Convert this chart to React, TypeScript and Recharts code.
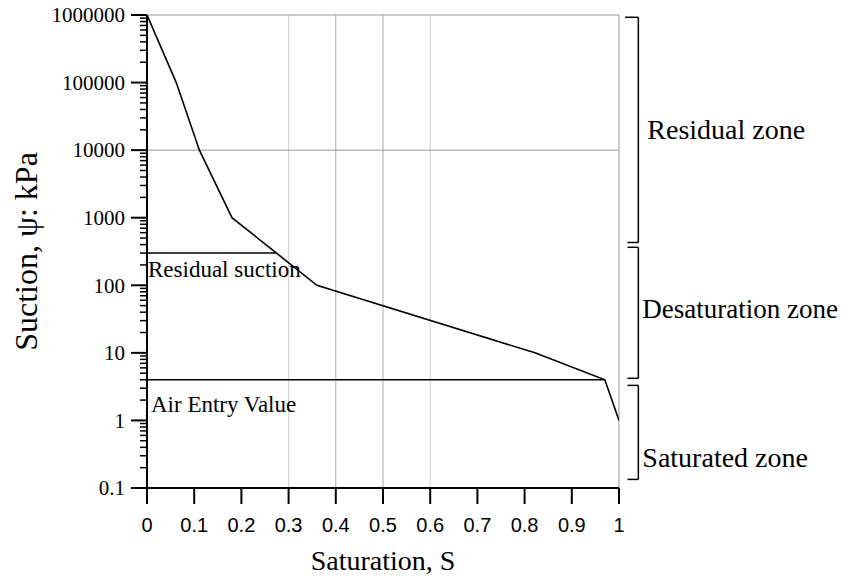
import React from 'react';
import { LineChart, Line, XAxis, YAxis, ReferenceLine, ReferenceDot, Label } from 'recharts';

// ---- data ----
const curveS = [0, 0.062, 0.111, 0.18, 0.36, 0.822, 0.97, 1];
const curvePsi = [1000000, 100000, 10000, 1000, 100, 10, 4, 1];

const residualSuctionPsi = 300;
const residualLineS = [0, 0.274];
const airEntryPsi = 4;
const airEntryLineS = [0, 0.97];

const xTicks = [0, 0.1, 0.2, 0.3, 0.4, 0.5, 0.6, 0.7, 0.8, 0.9, 1];
const yMajorTicks = [0.1, 1, 10, 100, 1000, 10000, 100000, 1000000];
const yMinorMultipliers = [2, 3, 4, 5, 6, 7, 8, 9];

const lightGridS = [0.3, 0.6];
const darkGridS = [0.4, 0.5];
const gridPsi = [10000, 1000000];

const zoneNames = ['Residual zone', 'Desaturation zone', 'Saturated zone'];
const zoneTopPsi = [925000, 365, 3.3];
const zoneBottomPsi = [430, 4.2, 0.134];
const zoneLabelPsi = [20500, 46, 0.29];

// ---- derived ----
const curveData = curveS.map((s, i) => ({ s, psi: curvePsi[i] }));
const residualData = residualLineS.map((s) => ({ s, psi: residualSuctionPsi }));
const airEntryData = airEntryLineS.map((s) => ({ s, psi: airEntryPsi }));
const yAllTicks: number[] = [];
yMajorTicks.forEach((m, i) => {
  yAllTicks.push(m);
  if (i < yMajorTicks.length - 1) yMinorMultipliers.forEach((k) => yAllTicks.push(k * m));
});

const SERIF = "'Liberation Serif', 'Times New Roman', serif";
const SANS = "'Liberation Sans', Arial, sans-serif";

const BRACKET_S = 1.041;
const BRACKET_TICK_S = 1.018;
const zoneFont = [28, 27, 28];
const zoneDx = [9, 4, 4];

const isMajor = (v: number) => yMajorTicks.some((m) => Math.abs(m - v) / m < 1e-9);

const YTick = (props: any) => {
  const { x, y, payload } = props;
  const v = payload.value;
  const major = isMajor(v);
  return (
    <g>
      <line x1={x - (major ? 16 : 7)} x2={x} y1={y} y2={y} stroke="#000" strokeWidth={major ? 2 : 1.5} />
      {major && (
        <text x={x - 22} y={y} dy="0.35em" textAnchor="end" fontFamily={SERIF} fontSize={21} fill="#000">
          {v < 1 ? String(v) : String(Math.round(v))}
        </text>
      )}
    </g>
  );
};

const XTick = (props: any) => {
  const { x, y, payload } = props;
  return (
    <text x={x} y={y + 28} textAnchor="middle" fontFamily={SANS} fontSize={20} fill="#000">
      {String(payload.value)}
    </text>
  );
};

const textLabel = (text: string, dx: number, fontSize: number) => (p: any) => {
  const vb = p.viewBox || {};
  const cx = (vb.x ?? 0) + (vb.width ?? 0);
  const cy = (vb.y ?? 0) + (vb.height ?? 0) / 2;
  return (
    <text x={cx + dx} y={cy} dy="0.35em" textAnchor="start" fontFamily={SERIF} fontSize={fontSize} fill="#000">
      {text}
    </text>
  );
};

export default function App() {
  return (
    <div style={{ position: 'absolute', left: 0, top: 0, background: '#fff' }}>
      <LineChart width={844} height={577} margin={{ top: 15, right: 225, left: 0, bottom: 0 }}>
        {lightGridS.map((s) => (
          <ReferenceLine key={'lg' + s} x={s} stroke="#cfcfcf" strokeWidth={1} />
        ))}
        {darkGridS.map((s) => (
          <ReferenceLine key={'dg' + s} x={s} stroke="#a8a8a8" strokeWidth={1} />
        ))}
        <ReferenceLine x={1} stroke="#a8a8a8" strokeWidth={1.2} />
        {gridPsi.map((p) => (
          <ReferenceLine key={'gp' + p} y={p} stroke="#999" strokeWidth={1} />
        ))}
        <XAxis
          dataKey="s"
          type="number"
          domain={[0, 1]}
          ticks={xTicks}
          interval={0}
          allowDataOverflow
          height={89}
          tickSize={16}
          tickMargin={0}
          axisLine={{ stroke: '#000', strokeWidth: 2 }}
          tickLine={{ stroke: '#000', strokeWidth: 2 }}
          tick={<XTick />}
        >
          <Label
            content={(p: any) => {
              const vb = p.viewBox;
              return (
                <text x={vb.x + vb.width / 2} y={vb.y + 82} textAnchor="middle" fontFamily={SERIF} fontSize={28} fill="#000">
                  Saturation, S
                </text>
              );
            }}
          />
        </XAxis>
        <YAxis
          type="number"
          scale="log"
          domain={[0.1, 1000000]}
          ticks={yAllTicks}
          interval={0}
          allowDataOverflow
          width={147}
          tickSize={0}
          tickMargin={0}
          axisLine={{ stroke: '#000', strokeWidth: 2 }}
          tickLine={false}
          tick={<YTick />}
        >
          <Label
            content={(p: any) => {
              const vb = p.viewBox;
              const cy = vb.y + vb.height / 2;
              return (
                <text x={37} y={cy} transform={`rotate(-90, 37, ${cy})`} textAnchor="middle" fontFamily={SERIF} fontSize={32} fill="#000">
                  Suction, ψ: kPa
                </text>
              );
            }}
          />
        </YAxis>

        {zoneNames.map((name, i) => (
          <ReferenceLine
            key={'zv' + i}
            ifOverflow="visible"
            segment={[{ x: BRACKET_S, y: zoneTopPsi[i] }, { x: BRACKET_S, y: zoneBottomPsi[i] }]}
            stroke="#000"
            strokeWidth={1.5}
          />
        ))}
        {zoneNames.map((name, i) => (
          <ReferenceLine
            key={'zt' + i}
            ifOverflow="visible"
            segment={[{ x: i === 0 ? 1.013 : BRACKET_TICK_S, y: zoneTopPsi[i] }, { x: BRACKET_S, y: zoneTopPsi[i] }]}
            stroke="#000"
            strokeWidth={1.5}
          />
        ))}
        {zoneNames.map((name, i) => (
          <ReferenceLine
            key={'zb' + i}
            ifOverflow="visible"
            segment={[{ x: BRACKET_TICK_S, y: zoneBottomPsi[i] }, { x: BRACKET_S, y: zoneBottomPsi[i] }]}
            stroke="#000"
            strokeWidth={1.5}
          />
        ))}
        {zoneNames.map((name, i) => (
          <ReferenceDot
            key={'zl' + i}
            ifOverflow="visible"
            x={BRACKET_S}
            y={zoneLabelPsi[i]}
            r={0}
            fill="none"
            stroke="none"
            label={{ content: textLabel(name, zoneDx[i], zoneFont[i]) } as any}
          />
        ))}
        <ReferenceDot
          ifOverflow="visible"
          x={0}
          y={175}
          r={0}
          fill="none"
          stroke="none"
          label={{ content: textLabel('Residual suction', 1, 23) } as any}
        />
        <ReferenceDot
          ifOverflow="visible"
          x={0}
          y={1.75}
          r={0}
          fill="none"
          stroke="none"
          label={{ content: textLabel('Air Entry Value', 4, 23) } as any}
        />

        <Line data={residualData} dataKey="psi" stroke="#000" strokeWidth={1.6} dot={false} isAnimationActive={false} />
        <Line data={airEntryData} dataKey="psi" stroke="#000" strokeWidth={1.6} dot={false} isAnimationActive={false} />
        <Line data={curveData} dataKey="psi" stroke="#000" strokeWidth={1.6} dot={false} isAnimationActive={false} />
      </LineChart>
    </div>
  );
}
